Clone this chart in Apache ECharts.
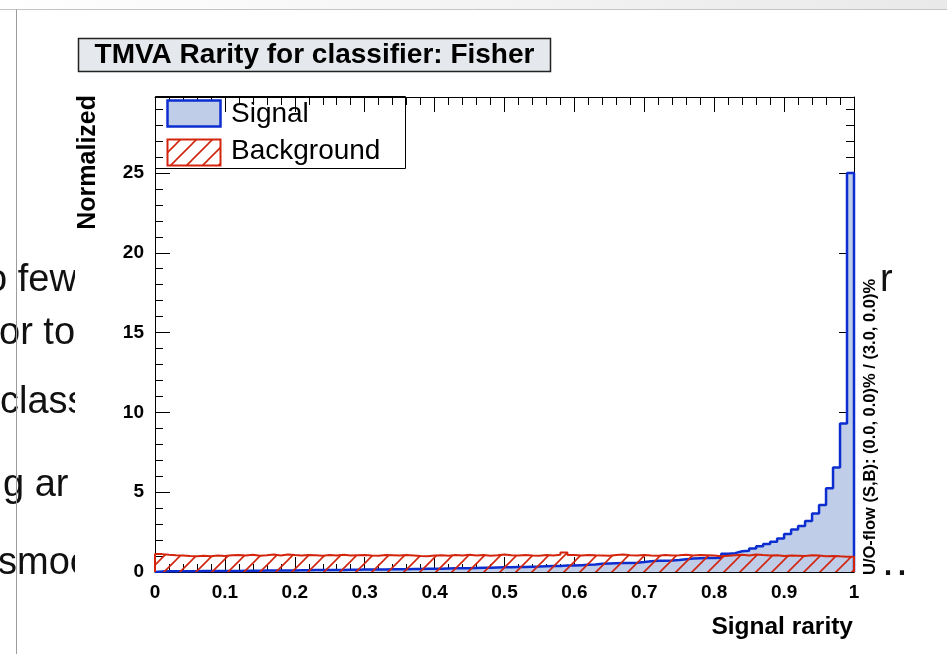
<!DOCTYPE html>
<html><head><meta charset="utf-8">
<script src="https://cdn.jsdelivr.net/npm/echarts@6/dist/echarts.min.js"></script>
<style>html,body{margin:0;padding:0;background:#fff;}#c{width:947px;height:654px;}</style>
</head><body><div id="c"></div>
<script>
// Bin contents (100 bins of width 0.01 over [0,1])
const signal = [
 0.03,0.04,0.04,0.05,0.05,0.05,0.06,0.06,0.06,0.07,
 0.07,0.07,0.08,0.08,0.08,0.09,0.09,0.10,0.10,0.10,
 0.11,0.11,0.12,0.12,0.12,0.13,0.13,0.14,0.14,0.15,
 0.15,0.16,0.16,0.17,0.17,0.18,0.19,0.19,0.20,0.21,
 0.21,0.22,0.23,0.23,0.24,0.25,0.26,0.27,0.28,0.29,
 0.30,0.31,0.32,0.33,0.34,0.36,0.37,0.38,0.40,0.41,
 0.43,0.45,0.47,0.52,0.54,0.55,0.56,0.57,0.58,0.62,
 0.68,0.70,0.71,0.72,0.75,0.80,0.84,0.86,0.87,0.88,
 0.90,1.15,1.18,1.30,1.33,1.48,1.62,1.75,1.90,2.10,
 2.38,2.67,2.88,3.20,3.67,4.20,5.25,6.55,9.30,25.0
];
const background = [
 1.12,1.08,1.05,1.03,1.00,0.98,1.02,0.99,1.03,1.00,
 1.05,1.06,1.04,1.08,1.02,1.05,1.09,1.04,1.10,1.06,
 1.03,1.07,1.05,1.02,1.06,1.04,1.08,1.03,1.05,1.07,
 1.04,1.02,1.06,1.05,1.03,1.07,1.04,1.01,0.99,1.03,
 1.05,1.02,1.06,1.03,1.08,1.04,1.06,1.02,1.05,1.09,
 1.05,1.03,1.07,1.04,1.02,1.06,1.04,1.08,1.22,1.06,
 1.03,1.07,1.05,1.04,1.02,1.06,1.09,1.05,1.03,1.07,
 1.04,1.02,1.06,1.03,1.05,1.08,1.04,1.07,1.05,1.03,
 0.99,1.02,1.05,1.08,1.04,1.10,1.06,1.03,1.05,1.01,
 1.04,1.02,1.00,1.05,1.03,0.99,1.01,0.98,0.96,0.95
];
const xRange = [0, 1];
const yRange = [0, 29.76];
const yLabelStep = 5;
const xLabelStep = 0.1;
const slideLines = ['o few', 'or to', 'class', 'g ar', 'smoo'];
const titleText = 'TMVA Rarity for classifier: Fisher';
const xTitle = 'Signal rarity';
const yTitle = 'Normalized';
const flowText = 'U/O-flow (S,B): (0.0, 0.0)% / (3.0, 0.0)%';
const legendNames = ['Signal', 'Background'];

const FONT = "'Liberation Sans', Arial, sans-serif";
const BLUE = '#0c2ed0', BLUEFILL = '#bfcde9', RED = '#d3240c';

function histPoints(vals){
  const n = vals.length, w = (xRange[1]-xRange[0])/n;
  const pts = [[xRange[0], 0]];
  vals.forEach((v,i)=>pts.push([xRange[0]+i*w, v]));
  pts.push([xRange[1], vals[n-1]]);
  pts.push([xRange[1], 0]);
  return pts;
}
function hatch(color, size, lw){
  const c = document.createElement('canvas'); c.width = size; c.height = size;
  const g = c.getContext('2d'); g.strokeStyle = color; g.lineWidth = lw;
  g.beginPath();
  g.moveTo(0,size); g.lineTo(size,0);
  g.moveTo(-size/2,size/2); g.lineTo(size/2,-size/2);
  g.moveTo(size/2,size*1.5); g.lineTo(size*1.5,size/2);
  g.stroke();
  return c;
}
const hatchImg = hatch(RED, 16, 1.6);

const chart = echarts.init(document.getElementById('c'));
const tickStyle = {color:'#000', width:1};
function xAx(pos, labels){
  return {type:'value', position:pos, min:xRange[0], max:xRange[1], interval:xLabelStep,
    axisLine:{show:true, onZero:false, lineStyle:{color:'#000', width:1}},
    axisTick:{show:true, inside:true, length:15, lineStyle:tickStyle},
    minorTick:{show:true, splitNumber:5, length:8, lineStyle:tickStyle},
    splitLine:{show:false}, minorSplitLine:{show:false},
    axisLabel:{show:labels, margin:11, color:'#000', fontWeight:'bold', fontSize:19, fontFamily:FONT,
      formatter:v=> (Math.abs(v)<1e-9?'0':(Math.abs(v-1)<1e-9?'1':v.toFixed(1)))}
  };
}
function yAx(pos, interval, len, labels, line){
  return {type:'value', position:pos, min:yRange[0], max:yRange[1], interval:interval,
    axisLine:{show:line, onZero:false, lineStyle:{color:'#000', width:1}},
    axisTick:{show:true, inside:true, length:len, lineStyle:tickStyle},
    splitLine:{show:false},
    axisLabel:{show:labels, margin:11, color:'#000', fontWeight:'bold', fontSize:19, fontFamily:FONT,
      showMaxLabel:false,
      formatter:v=> (Math.abs(v/yLabelStep-Math.round(v/yLabelStep))<1e-6 ? String(Math.round(v)) : '')}
  };
}

const slideGraphics = [];
const slideX = [-14, -1, 0, 3, -2];
const slideY = [300, 353, 422, 505, 583];
slideLines.forEach((t,i)=>slideGraphics.push({type:'text', z:-2, x:slideX[i], y:slideY[i],
  style:{text:t, font:'38px '+FONT, fill:'#111', textAlign:'left', textVerticalAlign:'bottom'}}));

const option = {
  animation:false,
  backgroundColor:'#fff',
  grid:{left:155, right:93, top:97, bottom:82, containLabel:false},
  xAxis:[xAx('bottom', true), xAx('top', false)],
  yAxis:[yAx('left', yLabelStep, 15, true, true), yAx('left', 1, 8, false, false),
         yAx('right', yLabelStep, 15, false, true), yAx('right', 1, 8, false, false)],
  series:[
    {name:legendNames[0], type:'line', step:'end', symbol:'none', xAxisIndex:0, yAxisIndex:0,
     data:histPoints(signal), lineStyle:{color:BLUE, width:2.5}, areaStyle:{color:BLUEFILL, opacity:1}, z:2},
    {name:legendNames[1], type:'line', step:'end', symbol:'none', xAxisIndex:0, yAxisIndex:0,
     data:histPoints(background), lineStyle:{color:RED, width:2}, areaStyle:{color:{image:hatchImg, repeat:'repeat'}, opacity:1}, z:3}
  ],
  graphic:[
    {type:'rect', z:-3, shape:{x:0,y:0,width:947,height:9},
     style:{fill:new echarts.graphic.LinearGradient(0,0,1,0,[{offset:0,color:'#ffffff'},{offset:1,color:'#e9e9e9'}])}},
    ...slideGraphics,
    {type:'text', z:-2, x:880, y:300, style:{text:'r', font:'38px '+FONT, fill:'#111', textVerticalAlign:'bottom'}},
    {type:'text', z:-2, x:866, y:585, style:{text:'…', font:'44px '+FONT, fill:'#111', textVerticalAlign:'bottom'}},
    {type:'rect', z:-1, shape:{x:75, y:10, width:804, height:644}, style:{fill:'#fff'}},
    {type:'line', z:20, shape:{x1:0,y1:9.5,x2:947,y2:9.5}, style:{stroke:'#c4c4c4', lineWidth:1}},
    {type:'line', z:20, shape:{x1:16.5,y1:9.5,x2:16.5,y2:654}, style:{stroke:'#9c9c9c', lineWidth:1}},
    // title
    {type:'rect', z:10, shape:{x:78.5, y:38.5, width:472, height:33}, style:{fill:'#e5e9ed', stroke:'#222', lineWidth:1.5}},
    {type:'text', z:11, x:314.5, y:55.5, style:{text:titleText, font:'bold 28px '+FONT, fill:'#000', textAlign:'center', textVerticalAlign:'middle'}},
    // legend
    {type:'rect', z:10, shape:{x:155.5, y:96.5, width:250, height:72}, style:{fill:'none', stroke:'#000', lineWidth:1}},
    {type:'rect', z:11, shape:{x:167.5, y:100.5, width:53, height:26}, style:{fill:BLUEFILL, stroke:BLUE, lineWidth:2.5}},
    {type:'rect', z:11, shape:{x:167.5, y:139.5, width:53, height:26}, style:{fill:{image:hatchImg, repeat:'repeat'}, stroke:RED, lineWidth:2}},
    {type:'text', z:11, x:231, y:114, style:{text:legendNames[0], font:'28px '+FONT, fill:'#000', textVerticalAlign:'middle'}},
    {type:'text', z:11, x:231, y:151, style:{text:legendNames[1], font:'28px '+FONT, fill:'#000', textVerticalAlign:'middle'}},
    // axis titles
    {type:'text', z:11, x:88, y:95, rotation:Math.PI/2, style:{text:yTitle, font:'bold 25px '+FONT, fill:'#000', textAlign:'right', textVerticalAlign:'middle'}},
    {type:'text', z:11, x:853, y:627, style:{text:xTitle, font:'bold 24.5px '+FONT, fill:'#000', textAlign:'right', textVerticalAlign:'middle'}},
    {type:'text', z:11, x:870, y:575, rotation:Math.PI/2, style:{text:flowText, font:'bold 16.5px '+FONT, fill:'#000', textAlign:'left', textVerticalAlign:'middle'}}
  ]
};
chart.setOption(option);
</script></body></html>
